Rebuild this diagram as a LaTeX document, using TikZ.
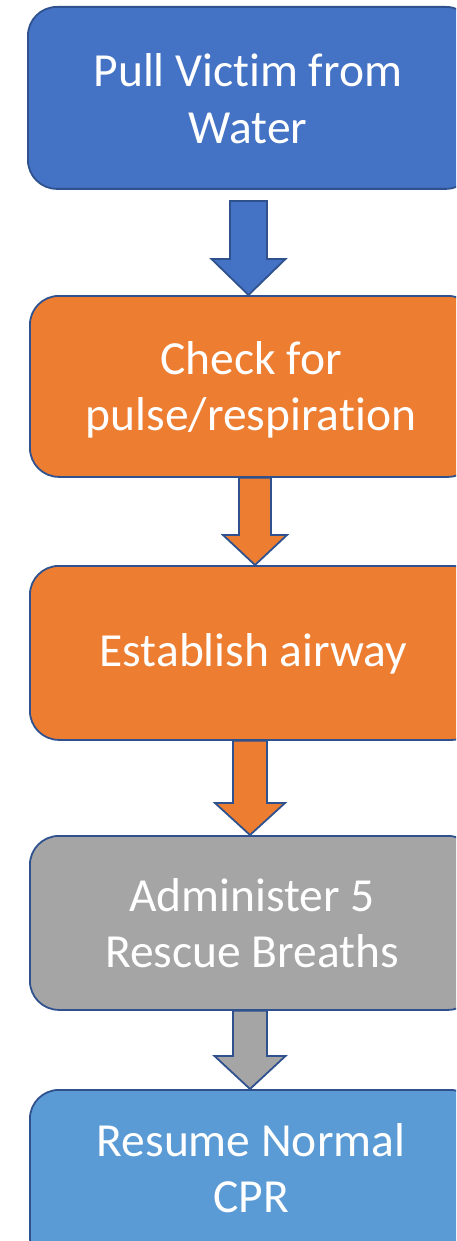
\documentclass[tikz,border=0pt]{standalone}
\usepackage{fontspec}
\setmainfont[Ligatures=NoCommon]{Carlito}
\usetikzlibrary{calc}
\definecolor{bdr}{HTML}{2F528F}
\definecolor{cblue}{HTML}{4472C4}
\definecolor{corange}{HTML}{ED7D31}
\definecolor{cgray}{HTML}{A5A5A5}
\definecolor{clight}{HTML}{5B9BD5}
\tikzset{
  stepbox/.style={draw=bdr, line width=1.8pt, rounded corners=29pt, anchor=north west, inner sep=0pt},
  txt/.style={text=white, align=center, font=\fontsize{47.5}{56.5}\selectfont, inner sep=0pt},
  blk/.style={draw=bdr, line width=1.8pt, line join=miter}
}
\newcommand{\blockarrow}[6]{% start, end, fill, headlen, halfshaft, halfhead
  \draw[blk, fill=#3] let \p1=(#1), \p2=(#2) in
    (\x1-#5,\y1) -- (\x1+#5,\y1) -- (\x1+#5,\y2+#4) -- (\x1+#6,\y2+#4)
    -- (\x2,\y2) -- (\x1-#6,\y2+#4) -- (\x1-#5,\y2+#4) -- cycle;}
\begin{document}
\begin{tikzpicture}[x=1pt,y=-1pt]
\useasboundingbox (0,0) rectangle (456,1241);
\clip (0,0) rectangle (456,1241);
% boxes
\node[stepbox, fill=cblue, minimum width=447pt, minimum height=182pt] (b1) at (27,6) {};
\node[stepbox, fill=corange, minimum width=447pt, minimum height=181pt] (b2) at (29,295) {};
\node[stepbox, fill=corange, minimum width=451pt, minimum height=174pt] (b3) at (29,565) {};
\node[stepbox, fill=cgray, minimum width=447pt, minimum height=174pt] (b4) at (29,835) {};
\node[stepbox, fill=clight, minimum width=449pt, minimum height=176pt] (b5) at (29,1089) {};
% texts
\node[txt] (t1) at (248,98.5) {Pull Victim from\\Water};
\node[txt] (t2) at (251,390) {Check for\\pulse/respiration};
\node[txt] (t3) at (253.5,654) {Establish airway};
\node[txt] (t4) at (252,923) {Administer 5\\Rescue Breaths};
\node[txt] (t5) at (251,1168) {Resume Normal\\CPR};
% arrow coordinates
\coordinate (x1) at (248.5,0);
\coordinate (x2) at (255,0);
\coordinate (x3) at (250,0);
\coordinate (x4) at (250,0);
\coordinate (a1s) at (248.5,201);
\coordinate (a1e) at (b2.north -| x1);
\coordinate (a2s) at (b2.south -| x2);
\coordinate (a2e) at (b3.north -| x2);
\coordinate (a3s) at (b3.south -| x3);
\coordinate (a3e) at (b4.north -| x3);
\coordinate (a4s) at (b4.south -| x4);
\coordinate (a4e) at (b5.north -| x4);
\blockarrow{a1s}{a1e}{cblue}{36pt}{18.5pt}{37pt}
\blockarrow{a2s}{a2e}{corange}{30pt}{16pt}{32pt}
\blockarrow{a3s}{a3e}{corange}{32pt}{17pt}{35pt}
\blockarrow{a4s}{a4e}{cgray}{33pt}{17pt}{35.5pt}
\end{tikzpicture}
\end{document}
